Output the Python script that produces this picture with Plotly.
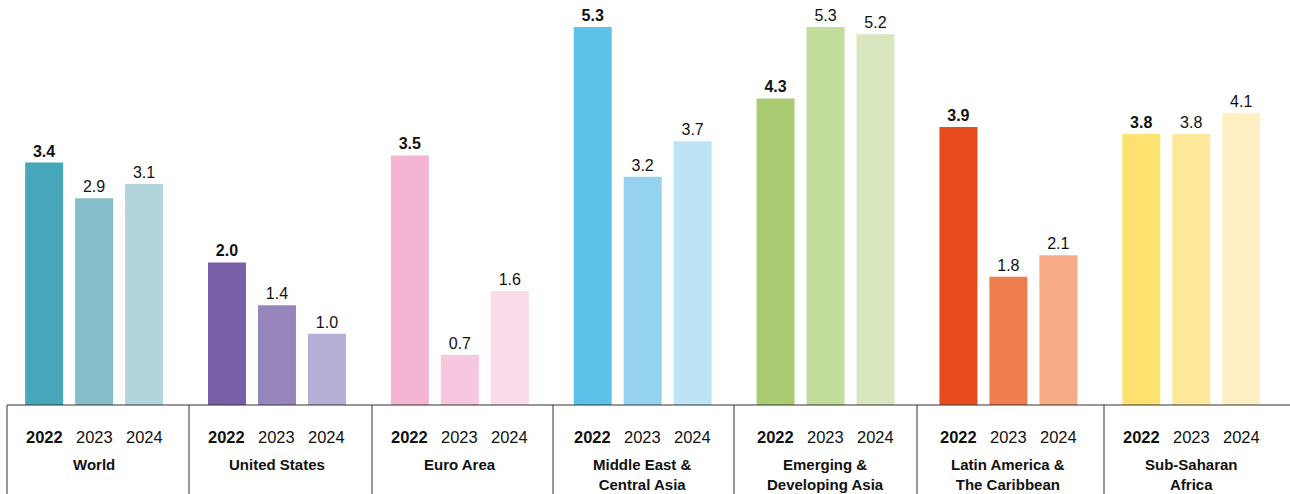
import plotly.graph_objects as go

# Regional growth figures, one value per year for each region
regions = ["World", "United States", "Euro Area", "Middle East &<br>Central Asia",
           "Emerging &<br>Developing Asia", "Latin America &<br>The Caribbean",
           "Sub-Saharan<br>Africa"]
years = ["2022", "2023", "2024"]
values_2022 = [3.4, 2.0, 3.5, 5.3, 4.3, 3.9, 3.8]
values_2023 = [2.9, 1.4, 0.7, 3.2, 5.3, 1.8, 3.8]
values_2024 = [3.1, 1.0, 1.6, 3.7, 5.2, 2.1, 4.1]

# Each region has its own hue, lighter for later years
colors_2022 = ["#45A7B9", "#7760A7", "#F4B5D3", "#5DC2EA", "#A9CC73", "#E84C1D", "#FEE16E"]
colors_2023 = ["#84BECA", "#9785BD", "#F7C7E0", "#94D2EF", "#C2DC99", "#EF7E4E", "#FEE89C"]
colors_2024 = ["#B2D4DD", "#B7AED6", "#FADBEA", "#BDE3F6", "#D9E7C0", "#F7AC88", "#FEF0C2"]

series = [values_2022, values_2023, values_2024]
palettes = [colors_2022, colors_2023, colors_2024]

W, H = 1290, 494
BOTTOM = 89
FONT = "Liberation Sans, Arial, Helvetica, sans-serif"
DOM = [2.7 / W, 1282.7 / W]
# pixel positions of the dividers between region columns
DIVIDERS_PX = [7, 189, 372, 553, 734, 917, 1104]

fig = go.Figure()
for i, (yr, vals, cols) in enumerate(zip(years, series, palettes)):
    label = "<b>%{y:.1f}</b>" if i == 0 else "%{y:.1f}"
    fig.add_trace(go.Bar(
        x=list(range(len(regions))), y=vals, name=yr,
        marker=dict(color=cols, line=dict(width=0)),
        texttemplate=label, textposition="outside", cliponaxis=False,
        textfont=dict(family=FONT, size=16, color="#111111"),
        hoverinfo="skip",
    ))

annotations = []
for k, reg in enumerate(regions):
    for j, yr in enumerate(years):
        txt = f"<b>{yr}</b>" if j == 0 else yr
        annotations.append(dict(
            x=k, y=0, xref="x", yref="paper", text=txt, showarrow=False,
            xshift=(j - 1) * 50, yshift=-32, yanchor="middle",
            font=dict(family=FONT, size=16.5, color="#111111"),
        ))
    annotations.append(dict(
        x=k, y=0, xref="x", yref="paper", text=f"<b>{reg}</b>", showarrow=False,
        yshift=-49, yanchor="top", align="center",
        font=dict(family=FONT, size=15, color="#111111"),
    ))

plot_h = H - BOTTOM
shapes = [dict(type="line", xref="paper", yref="paper",
               x0=7 / W, x1=1.0, y0=0, y1=0,
               line=dict(color="#333333", width=1))]
for xp in DIVIDERS_PX:
    shapes.append(dict(type="line", xref="paper", yref="paper",
                       x0=xp / W, x1=xp / W, y0=0, y1=-BOTTOM / plot_h,
                       line=dict(color="#333333", width=1)))

fig.update_layout(
    width=W, height=H,
    margin=dict(l=0, r=0, t=0, b=BOTTOM),
    paper_bgcolor="white", plot_bgcolor="white",
    barmode="group", bargap=0.18, bargroupgap=0.24,
    showlegend=False,
    xaxis=dict(domain=DOM, range=[-0.5, len(regions) - 0.5], visible=False),
    yaxis=dict(range=[0, plot_h / 71.3], visible=False),
    annotations=annotations, shapes=shapes,
)

fig.write_html("out.html")
